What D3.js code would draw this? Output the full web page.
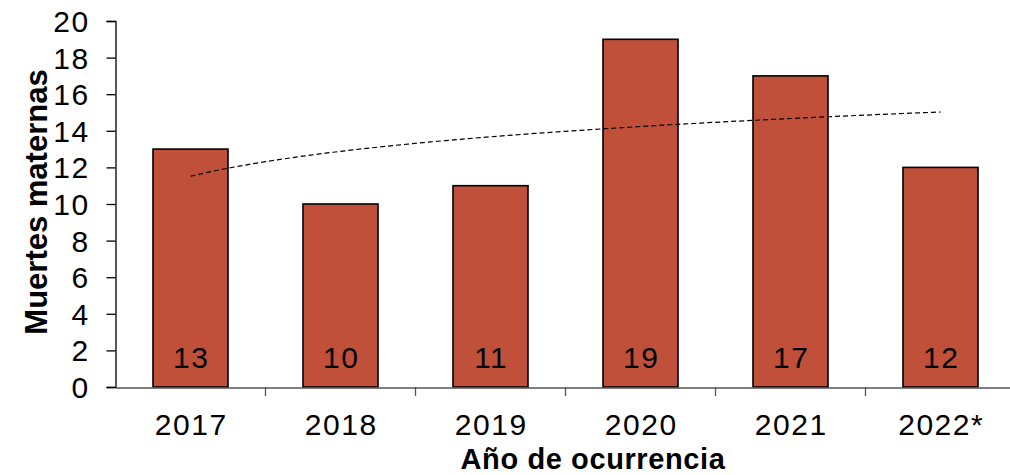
<!DOCTYPE html>
<html>
<head>
<meta charset="utf-8">
<script src="https://cdn.jsdelivr.net/npm/d3@7"></script>
<style>
  body { margin: 0; background: #fff; }
  text { font-family: "Liberation Sans", Arial, sans-serif; fill: #000; }
</style>
</head>
<body>
<svg id="chart" width="1010" height="475"></svg>
<script>
// data
const years = ["2017", "2018", "2019", "2020", "2021", "2022*"];
const deaths = [13, 10, 11, 19, 17, 12];
const yTicks = [0, 2, 4, 6, 8, 10, 12, 14, 16, 18, 20];

const svg = d3.select("#chart");

const x = d3.scaleBand().domain(years).range([115.5, 1015.5]).paddingInner(0.5).paddingOuter(0.25);
const y = d3.scaleLinear().domain([0, 20]).range([387, 21]);

// bars
svg.selectAll("rect.bar")
  .data(years)
  .enter()
  .append("rect")
  .attr("class", "bar")
  .attr("x", d => x(d))
  .attr("y", (d, i) => y(deaths[i]))
  .attr("width", x.bandwidth())
  .attr("height", (d, i) => y(0) - y(deaths[i]))
  .attr("fill", "#C0503A")
  .attr("stroke", "#000")
  .attr("stroke-width", 1.6);

// value labels inside bars
svg.selectAll("text.val")
  .data(years)
  .enter()
  .append("text")
  .attr("class", "val")
  .attr("x", d => x(d) + x.bandwidth() / 2 + 0.7)
  .attr("y", 368)
  .attr("text-anchor", "middle")
  .style("font-size", "30px")
  .style("letter-spacing", "1.4px")
  .text((d, i) => deaths[i]);

// logarithmic trend line (least squares on ln(index))
const lx = deaths.map((d, i) => Math.log(i + 1));
const mx = d3.mean(lx), my = d3.mean(deaths);
const a = d3.sum(lx, (v, i) => (v - mx) * (deaths[i] - my)) / d3.sum(lx, v => (v - mx) * (v - mx));
const b = my - a * mx;
const trendPts = d3.range(1, 6.001, 0.05).map(t => [t, a * Math.log(t) + b]);
const xc = t => x(years[0]) + x.bandwidth() / 2 + (t - 1) * x.step();
svg.append("path")
  .datum(trendPts)
  .attr("fill", "none")
  .attr("stroke", "#000")
  .attr("stroke-width", 1.2)
  .attr("stroke-dasharray", "5,3")
  .attr("d", d3.line().x(d => xc(d[0])).y(d => y(d[1])));

// y axis
const yAxis = svg.append("g")
  .attr("transform", "translate(115.5,0)")
  .call(d3.axisLeft(y).tickValues(yTicks).tickSize(9).tickPadding(17));
yAxis.select(".domain").attr("stroke", "#000").attr("stroke-width", 1.3);
yAxis.selectAll(".tick line").attr("stroke", "#000").attr("stroke-width", 1.3);
yAxis.selectAll(".tick text").style("font-size", "30px").attr("dy", "0.35em")
  .style("letter-spacing", "1.4px")
  .style("font-family", '"Liberation Sans", Arial, sans-serif');

// x axis
const xAxis = svg.append("g")
  .attr("transform", "translate(0,387.5)")
  .call(d3.axisBottom(x).tickSize(0).tickPadding(26));
xAxis.select(".domain").attr("stroke", "#555").attr("stroke-width", 1.3);
xAxis.selectAll(".tick text").style("font-size", "30px")
  .attr("dx", "0.7px")
  .style("letter-spacing", "1.5px")
  .style("font-family", '"Liberation Sans", Arial, sans-serif');

// separators between categories
svg.selectAll("line.sep")
  .data(years.slice(1))
  .enter()
  .append("line")
  .attr("class", "sep")
  .attr("x1", d => x(d) - x.step() * 0.25)
  .attr("x2", d => x(d) - x.step() * 0.25)
  .attr("y1", 387)
  .attr("y2", 396)
  .attr("stroke", "#555")
  .attr("stroke-width", 1.3);

// axis titles
svg.append("text")
  .attr("transform", "translate(47,202) rotate(-90)")
  .attr("text-anchor", "middle")
  .style("font-size", "31px")
  .style("font-weight", "bold")
  .text("Muertes maternas");

svg.append("text")
  .attr("x", 593)
  .attr("y", 468.5)
  .attr("text-anchor", "middle")
  .style("font-size", "29px")
  .style("font-weight", "bold")
  .style("letter-spacing", "0.6px")
  .text("Año de ocurrencia");
</script>
</body>
</html>
